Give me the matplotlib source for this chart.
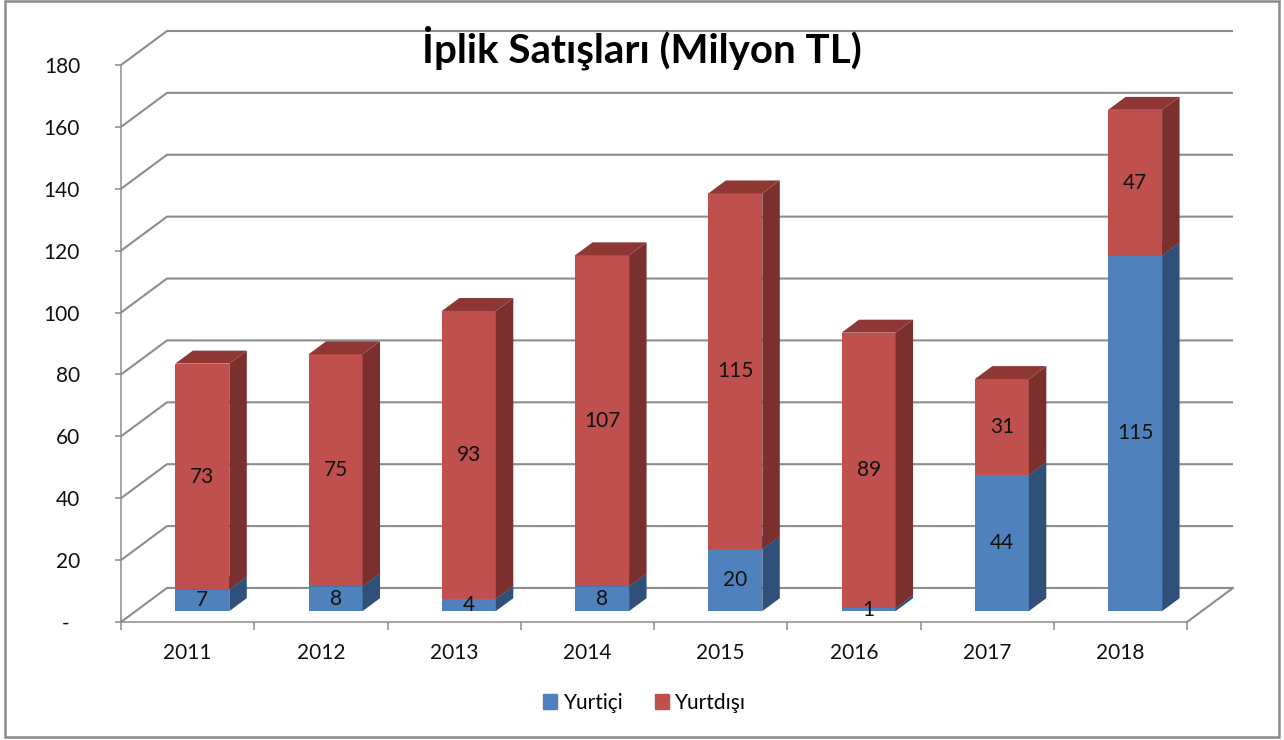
import matplotlib
matplotlib.use("Agg")
import matplotlib.pyplot as plt
from matplotlib.patches import Polygon, Patch, Rectangle

years = ["2011", "2012", "2013", "2014", "2015", "2016", "2017", "2018"]
yurtici = [7, 8, 4, 8, 20, 1, 44, 115]
yurtdisi = [73, 75, 93, 107, 115, 89, 31, 47]
yticks = [0, 20, 40, 60, 80, 100, 120, 140, 160, 180]
ytick_labels = ["-  "] + [str(v) for v in yticks[1:]]

# pseudo 3D projection (depth offset in data units)
DX, DY = 0.345, 11.0
D0, D1 = 0.32, 0.70
BAR_W = 0.405
GRID = "#8c8c8c"

blue = ("#4f81bd", "#2f5079", "#3b6294")
red = ("#c0504d", "#7b302e", "#8e3735")

plt.rcParams["font.family"] = ["Lato", "DejaVu Sans"]

fig = plt.figure(figsize=(12.84, 7.40), dpi=100)
ax = fig.add_axes([121 / 1284, 118 / 740, 1112 / 1284, 591 / 740])
ax.set_xlim(0, 8 + DX)
ax.set_ylim(0, 180 + DY)


def proj(x, y, d):
    return (x + d * DX, y + d * DY)


def box(x0, x1, y0, y1, cols):
    front, side, top = cols
    pts = [proj(x0, y0, D0), proj(x1, y0, D0), proj(x1, y1, D0), proj(x0, y1, D0)]
    ax.add_patch(Polygon(pts, closed=True, fc=front, ec="none", zorder=3))
    pts = [proj(x1, y0, D0), proj(x1, y0, D1), proj(x1, y1, D1), proj(x1, y1, D0)]
    ax.add_patch(Polygon(pts, closed=True, fc=side, ec="none", zorder=3))
    pts = [proj(x0, y1, D0), proj(x1, y1, D0), proj(x1, y1, D1), proj(x0, y1, D1)]
    ax.add_patch(Polygon(pts, closed=True, fc=top, ec="none", zorder=3))


# back wall gridlines and floor
for v in yticks:
    ax.plot([0, DX, 8 + DX], [v, v + DY, v + DY], color=GRID, lw=1.5,
            zorder=1, clip_on=False, solid_capstyle="butt")
ax.plot([8, 8 + DX], [0, DY], color=GRID, lw=1.5, zorder=1, clip_on=False)

for i in range(len(years)):
    x0 = i + 0.5 - BAR_W / 2
    x1 = i + 0.5 + BAR_W / 2
    b = yurtici[i]
    r = yurtdisi[i]
    box(x0, x1, 0, b, blue)
    box(x0, x1, b, b + r, red)
    cx = i + 0.5 + D0 * DX
    ax.text(cx, b / 2 + D0 * DY, str(b), ha="center", va="center",
            fontsize=15, color="#111111", zorder=5)
    ax.text(cx, b + r / 2 + D0 * DY, str(r), ha="center", va="center",
            fontsize=15, color="#111111", zorder=5)

for s in ["top", "right"]:
    ax.spines[s].set_visible(False)
for s in ["left", "bottom"]:
    ax.spines[s].set_color(GRID)
    ax.spines[s].set_linewidth(1.1)
ax.spines["left"].set_bounds(0, 180)
ax.spines["bottom"].set_bounds(0, 8)

ax.set_yticks(yticks)
ax.set_yticklabels(ytick_labels)
ax.tick_params(axis="y", length=4.5, width=1.1, color=GRID, pad=25,
               labelsize=15, labelcolor="#111111")
ax.set_xticks(range(9))
ax.set_xticklabels([])
ax.set_xticks([i + 0.5 for i in range(8)], minor=True)
ax.set_xticklabels(years, minor=True)
ax.tick_params(axis="x", which="major", length=6, width=1.1, color=GRID)
ax.tick_params(axis="x", which="minor", length=0, pad=15, labelsize=15,
               labelcolor="#111111")

fig.text(0.5, 1 - 62 / 740, "İplik Satışları (Milyon TL)", ha="center",
         va="baseline", fontsize=29, fontweight="bold", color="black")

handles = [Patch(color=blue[0], label="Yurtiçi"), Patch(color=red[0], label="Yurtdışı")]
fig.legend(handles=handles, loc="center", bbox_to_anchor=(0.502, 1 - 703 / 740),
           ncol=2, frameon=False, fontsize=15, handlelength=0.7,
           handleheight=0.7, handletextpad=0.3, columnspacing=1.5)

fig.patches.append(Rectangle((5 / 1284, 3 / 740), 1274 / 1284, 736 / 740,
                             transform=fig.transFigure, fill=False,
                             ec="#8a8a8a", lw=1.8))

fig.savefig("out.png", dpi=100)
